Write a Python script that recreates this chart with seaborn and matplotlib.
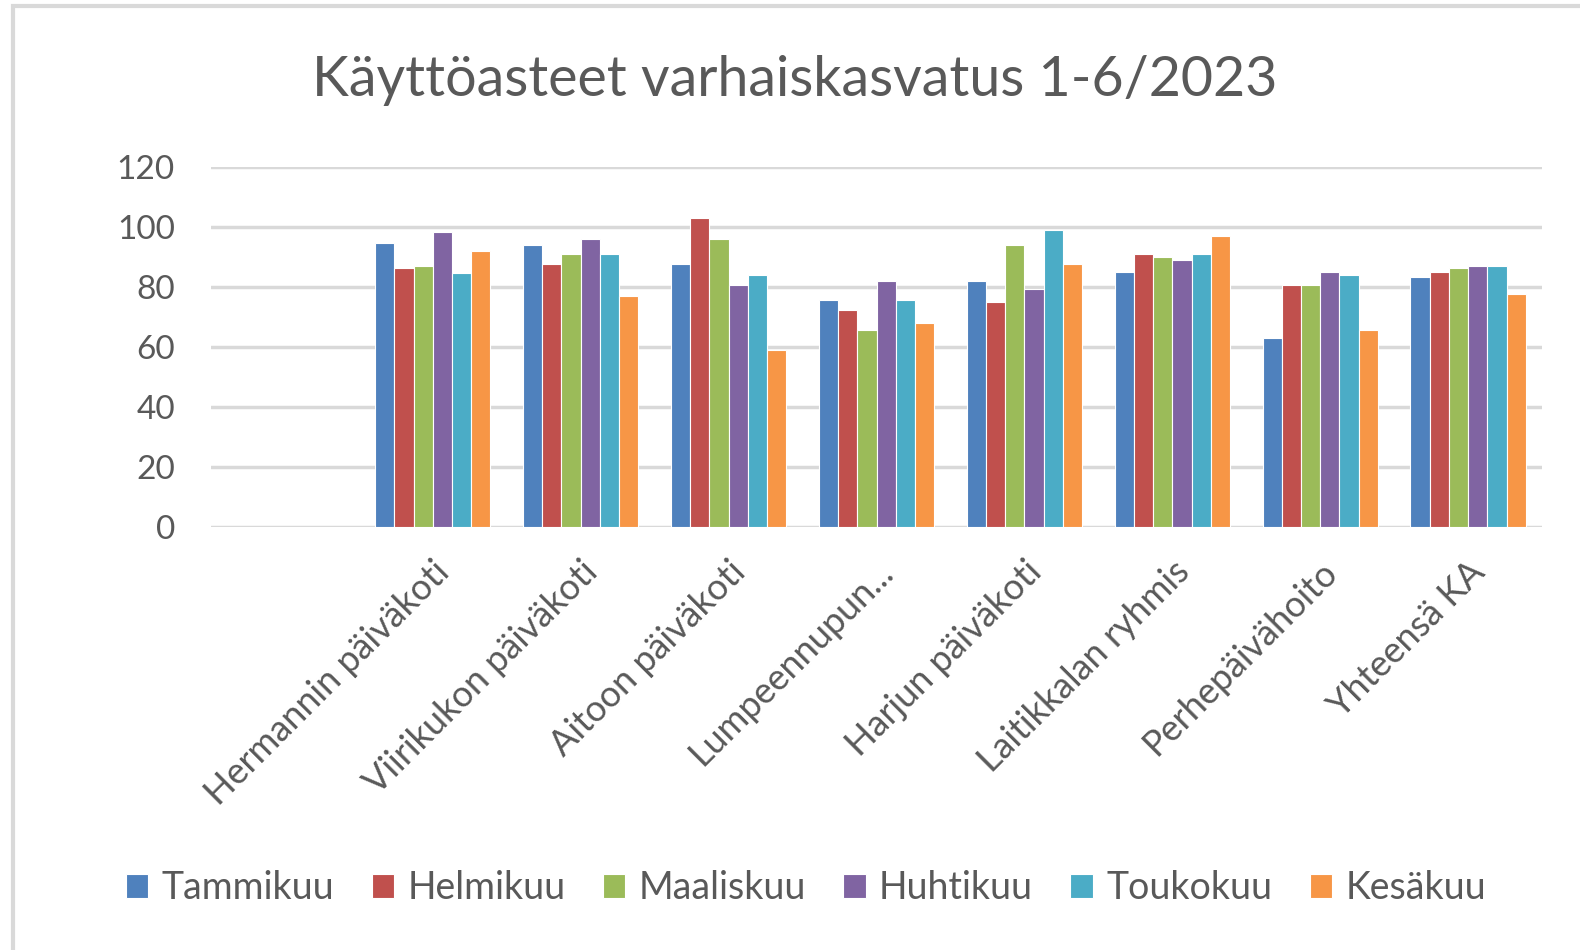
import matplotlib
matplotlib.use("Agg")
import matplotlib.pyplot as plt
import numpy as np
import pandas as pd
import seaborn as sns
from matplotlib.patches import Rectangle

# data (first slot is empty in the original sheet)
categories = ["", "Hermannin päiväkoti", "Viirikukon päiväkoti", "Aitoon päiväkoti",
              "Lumpeennupun...", "Harjun päiväkoti", "Laitikkalan ryhmis",
              "Perhepäivähoito", "Yhteensä KA"]
months = ["Tammikuu", "Helmikuu", "Maaliskuu", "Huhtikuu", "Toukokuu", "Kesäkuu"]
tammikuu = [np.nan, 94.5, 93.9, 87.6, 75.6, 82.0, 84.9, 62.9, 83.4]
helmikuu = [np.nan, 86.2, 87.6, 103.1, 72.2, 74.9, 91.1, 80.5, 84.9]
maaliskuu = [np.nan, 86.9, 91.1, 96.0, 65.7, 93.9, 89.8, 80.5, 86.3]
huhtikuu = [np.nan, 98.2, 96.0, 80.5, 81.8, 79.2, 89.1, 84.9, 87.0]
toukokuu = [np.nan, 84.7, 91.1, 84.1, 75.6, 99.0, 91.1, 84.1, 87.0]
kesakuu = [np.nan, 91.9, 77.1, 58.8, 67.9, 87.6, 96.8, 65.7, 77.7]
colors = ["#4F81BD", "#C0504D", "#9BBB59", "#8064A2", "#4BACC6", "#F79646"]

series = [tammikuu, helmikuu, maaliskuu, huhtikuu, toukokuu, kesakuu]
df = pd.DataFrame([
    {"paikka": c, "kuukausi": m, "arvo": v}
    for m, vals in zip(months, series)
    for c, v in zip(categories, vals)
])

sns.set_style("white")
plt.rcParams["font.family"] = ["Lato", "DejaVu Sans"]
txt = "#595959"

fig = plt.figure(figsize=(15.8, 9.5), dpi=100)
ax = fig.add_axes([0.1335, 0.4453, 0.8425, 0.3791])

sns.barplot(data=df, x="paikka", y="arvo", hue="kuukausi", order=categories,
            hue_order=months, palette=colors, saturation=1, width=0.78, ax=ax,
            edgecolor="white", linewidth=0.8, errorbar=None, zorder=3)

ax.set_ylim(0, 120)
ax.set_yticks(range(0, 121, 20))
ax.set_xlim(-0.5, len(categories) - 0.5)
for s in ax.spines.values():
    s.set_visible(False)
ax.yaxis.grid(True, color="#d9d9d9", linewidth=2.5, zorder=0)
ax.set_axisbelow(True)
ax.tick_params(axis="y", length=0, pad=26, labelsize=24, labelcolor=txt)
ax.tick_params(axis="x", length=0, pad=20, labelsize=26, labelcolor=txt)
plt.setp(ax.get_xticklabels(), rotation=45, ha="right", rotation_mode="anchor")
ax.set_xlabel("")
ax.set_ylabel("")

fig.text(0.503, 0.915, "Käyttöasteet varhaiskasvatus 1-6/2023", ha="center",
         va="center", fontsize=40, color=txt)

ax.legend_.remove()
handles, labels = ax.get_legend_handles_labels()
fig.legend(handles, labels, loc="center", bbox_to_anchor=(0.51, 0.065), ncol=6,
           frameon=False, fontsize=27, labelcolor=txt, handlelength=0.6,
           handleheight=0.6, handletextpad=0.35, columnspacing=1.0)

fig.patches.append(Rectangle((0.008, -0.01), 1.1, 1.004, transform=fig.transFigure,
                             fill=False, edgecolor="#d9d9d9", linewidth=3))

fig.savefig("out.png", dpi=100)
